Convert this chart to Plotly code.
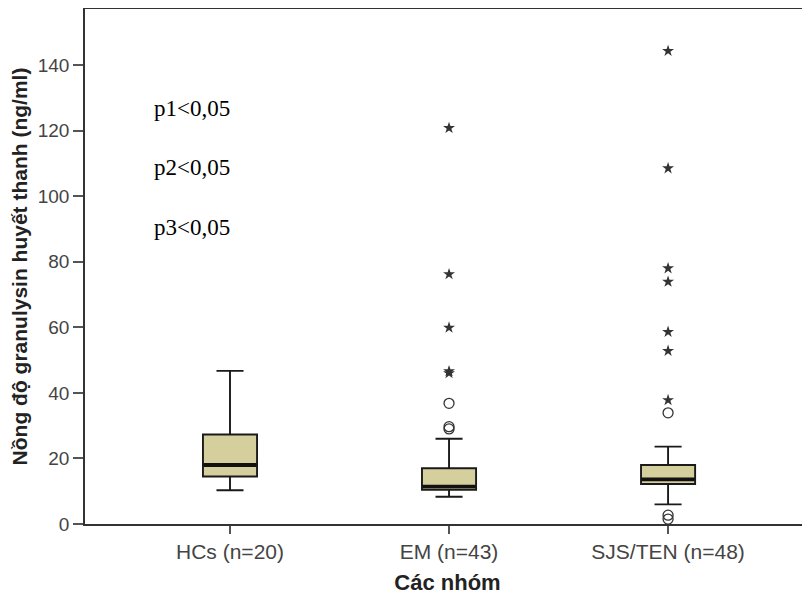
import plotly.graph_objects as go

categories = ["HCs (n=20)", "EM (n=43)", "SJS/TEN (n=48)"]
lower_whisker = [10.3, 8.3, 6.0]
q1 = [14.5, 10.4, 12.2]
median = [18.0, 11.4, 13.6]
q3 = [27.3, 17.0, 18.0]
upper_whisker = [46.7, 26.0, 23.6]

# outliers (circles) and extreme values (stars)
circle_cat = ["EM (n=43)", "EM (n=43)", "EM (n=43)",
              "SJS/TEN (n=48)", "SJS/TEN (n=48)", "SJS/TEN (n=48)"]
circle_val = [29.0, 29.7, 36.8, 33.9, 2.7, 1.5]
star_cat = ["EM (n=43)"] * 5 + ["SJS/TEN (n=48)"] * 7
star_val = [46.0, 46.6, 59.9, 76.2, 120.8,
            37.8, 52.8, 58.6, 73.9, 78.0, 108.5, 144.3]

p_labels = ["p1<0,05", "p2<0,05", "p3<0,05"]
p_y = [126.9, 108.9, 90.6]

box_fill = "#D4CF9C"
ink = "#1a1a1a"

fig = go.Figure()
fig.add_trace(go.Box(
    x=categories, q1=q1, median=median, q3=q3,
    lowerfence=lower_whisker, upperfence=upper_whisker,
    fillcolor=box_fill, line=dict(color=ink, width=1.9),
    width=0.247, whiskerwidth=0.5, boxpoints=False,
    showlegend=False, hoverinfo="skip",
))
fig.add_trace(go.Scatter(
    x=categories, y=median, mode="markers",
    marker=dict(symbol="line-ew", size=38, line=dict(color="#111111", width=3.8)),
    showlegend=False, hoverinfo="skip",
))
fig.add_trace(go.Scatter(
    x=circle_cat, y=circle_val, mode="markers",
    marker=dict(symbol="circle-open", size=10, line=dict(color="#333333", width=1.3),
                color="#333333"),
    showlegend=False,
))
fig.add_trace(go.Scatter(
    x=star_cat, y=star_val, mode="markers",
    marker=dict(symbol="star", size=9, color="#333333", line=dict(width=0)),
    showlegend=False,
))

for t, y in zip(p_labels, p_y):
    fig.add_annotation(x=-0.356, y=y, text=t, showarrow=False, xanchor="left",
                       yanchor="middle",
                       font=dict(family="Liberation Serif, Times New Roman, serif",
                                 size=23, color="#000000"))

# page body adds an 8px offset; figure sized to fill the remaining window
fig.update_layout(
    width=802, height=587,
    margin=dict(l=77, r=0, t=1, b=71),
    plot_bgcolor="white", paper_bgcolor="white",
    font=dict(family="Liberation Sans, Arial, sans-serif", color="#444444"),
)
fig.update_xaxes(
    type="category", categoryorder="array", categoryarray=categories,
    range=[-0.662, 2.648], automargin=False,
    showline=True, linecolor="#333333", linewidth=1.5, mirror=True,
    ticks="outside", ticklen=8, tickcolor="#555555", tickwidth=1.5,
    tickfont=dict(size=21, color="#444444"),
    showgrid=False, zeroline=False,
    title=dict(text="<b>Các nhóm</b>", standoff=13,
               font=dict(size=22, color="#222222")),
)
fig.update_yaxes(
    range=[0, 157.1], tickvals=[0, 20, 40, 60, 80, 100, 120, 140], automargin=False,
    showline=True, linecolor="#333333", linewidth=1.5, mirror=False,
    ticks="outside", ticklen=10, tickcolor="#555555", tickwidth=1.5,
    tickfont=dict(size=19, color="#444444"),
    showgrid=False, zeroline=False,
    title=dict(text="<b>Nồng độ granulysin huyết thanh (ng/ml)</b>", standoff=6,
               font=dict(size=21, color="#222222")),
)

fig.write_html("out.html")
